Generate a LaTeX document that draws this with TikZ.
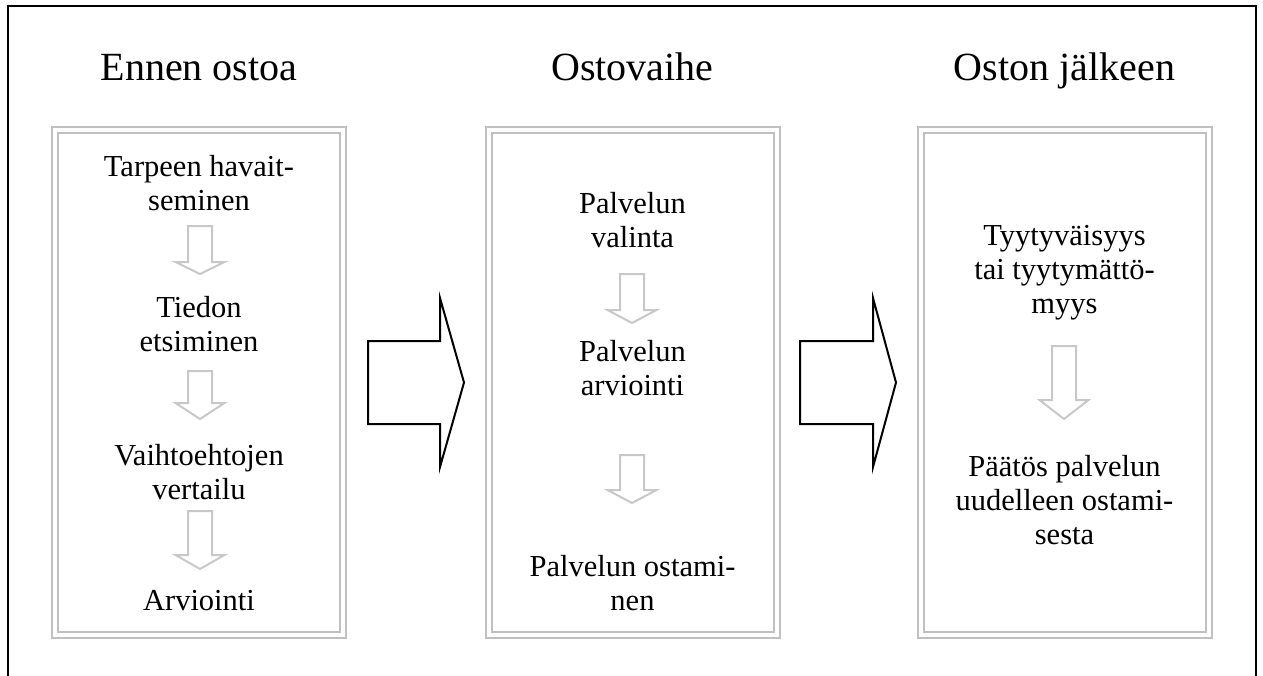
\documentclass[tikz,border=0pt]{standalone}
\usepackage{fontspec}
\setmainfont{Liberation Serif}
\definecolor{boxgray}{RGB}{192,192,192}
\definecolor{arrgray}{RGB}{200,200,200}
\newcommand\dnarrow[4]{%
  \draw[smallarr] ({#1-12},#2) -- ({#1+12},#2) -- ({#1+12},#3) -- ({#1+24.5},#3) -- (#1,#4) -- ({#1-24.5},#3) -- ({#1-12},#3) -- cycle;}
\newcommand\bigarr[3]{%
  \draw[bigarrow] (#1,341) -- (#2,341) -- (#2,298) -- (#3,382.5) -- (#2,467) -- (#2,424) -- (#1,424) -- cycle;}
\begin{document}
\begin{tikzpicture}[x=1pt,y=-1pt,
  frame/.style={draw=black,line width=2pt},
  panel/.style={draw=boxgray,double=white,double distance=4pt,line width=2pt,minimum width=288pt,minimum height=505pt,inner sep=0pt},
  head/.style={font=\fontsize{40}{44}\selectfont,inner sep=0pt,anchor=base},
  txt/.style={font=\fontsize{30.5}{34}\selectfont,align=center,inner sep=0pt},
  smallarr/.style={draw=arrgray,line width=2pt,line join=miter},
  bigarrow/.style={draw=black,line width=2pt,line join=miter}]
\useasboundingbox (0,0) rectangle (1263,675);
\draw[frame] (8,676) -- (8,6) -- (1256,6) -- (1256,676);
% headings
\node[head] (h1) at (199,80) {Ennen ostoa};
\node[head] (h2) at (632.5,80) {Ostovaihe};
\node[head] (h3) at (1064.5,80) {Oston jälkeen};
% panels
\node[panel] (b1) at (199,382.5) {};
\node[panel] (b2) at (632.5,382.5) {};
\node[panel] (b3) at (1064.5,382.5) {};
% box 1
\node[txt] (a1) at (199,183) {Tarpeen havait-\\seminen};
\node[txt] (a2) at (199,324) {Tiedon\\etsiminen};
\node[txt] (a3) at (199,472) {Vaihtoehtojen\\vertailu};
\node[txt] (a4) at (199,601) {Arviointi};
\dnarrow{200}{226}{262}{274}
\dnarrow{200}{371}{403}{419}
\dnarrow{200}{511}{555}{569}
% box 2
\node[txt] (p1) at (632.5,220) {Palvelun\\valinta};
\node[txt] (p2) at (632.5,368) {Palvelun\\arviointi};
\node[txt] (p3) at (632.5,583) {Palvelun ostami-\\nen};
\dnarrow{632}{274}{310}{323}
\dnarrow{632}{455}{490}{503}
% box 3
\node[txt] (t1) at (1064.5,273) {Tyytyväisyys\\tai tyytymättö-\\myys};
\node[txt] (t2) at (1064.5,500) {Päätös palvelun\\uudelleen ostami-\\sesta};
\dnarrow{1064}{346}{400}{419}
% big arrows
\bigarr{368}{440}{464}
\bigarr{800}{873}{896}
\end{tikzpicture}
\end{document}
